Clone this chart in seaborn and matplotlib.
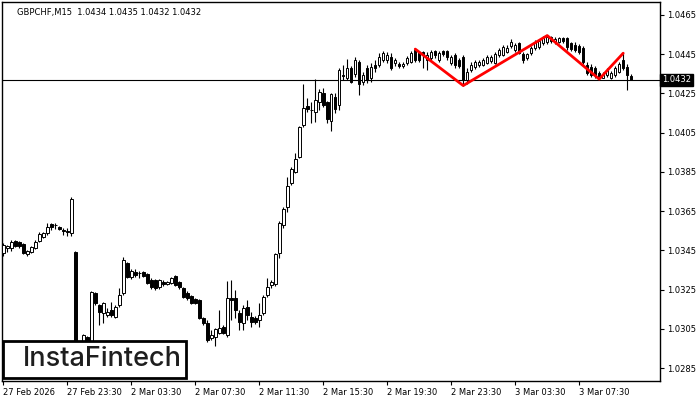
import numpy as np
import matplotlib
matplotlib.use("Agg")
import matplotlib.pyplot as plt
from matplotlib.patches import Rectangle
import seaborn as sns

# GBPCHF M15 candles, 27 Feb 19:30 -> 3 Mar 10:45 (bar index = position)
opens = [1.03437, 1.03462, 1.03462, 1.03498, 1.03493, 1.03483, 1.03432, 1.03442, 1.03462, 1.03498,
         1.03519, 1.03539, 1.03585, 1.03580, 1.03570, 1.03554, 1.03549, 1.03539, 1.03442, 1.02975,
         1.02975, 1.03008, 1.02985, 1.03233, 1.03172, 1.03131, 1.03120, 1.03146, 1.03110, 1.03172,
         1.03233, 1.03386, 1.03314, 1.03340, 1.03335, 1.03340, 1.03330, 1.03299, 1.03299, 1.03263,
         1.03289, 1.03279, 1.03284, 1.03319, 1.03289, 1.03258, 1.03233, 1.03217, 1.03202, 1.03197,
         1.03105, 1.03080, 1.03003, 1.03008, 1.03029, 1.03059, 1.03018, 1.03207, 1.03207, 1.03131,
         1.03080, 1.03161, 1.03110, 1.03105, 1.03095, 1.03131, 1.03222, 1.03273, 1.03279, 1.03437,
         1.03580, 1.03671, 1.03794, 1.03850, 1.03926, 1.04089, 1.04186, 1.04166, 1.04156, 1.04207,
         1.04253, 1.04207, 1.04110, 1.04232, 1.04192, 1.04344, 1.04329, 1.04380, 1.04350, 1.04411,
         1.04309, 1.04380, 1.04329, 1.04395, 1.04395, 1.04421, 1.04421, 1.04436, 1.04406, 1.04401,
         1.04390, 1.04406, 1.04411, 1.04470, 1.04457, 1.04462, 1.04421, 1.04431, 1.04467, 1.04421,
         1.04467, 1.04467, 1.04406, 1.04446, 1.04421, 1.04436, 1.04319, 1.04370, 1.04385, 1.04395,
         1.04395, 1.04406, 1.04416, 1.04406, 1.04446, 1.04446, 1.04462, 1.04492, 1.04472, 1.04508,
         1.04452, 1.04431, 1.04457, 1.04482, 1.04487, 1.04508, 1.04513, 1.04538, 1.04513, 1.04513,
         1.04533, 1.04533, 1.04508, 1.04497, 1.04492, 1.04482, 1.04395, 1.04385, 1.04380, 1.04355,
         1.04329, 1.04344, 1.04329, 1.04344, 1.04360, 1.04421, 1.04385, 1.04340]
highs = [1.03488, 1.03478, 1.03503, 1.03503, 1.03498, 1.03488, 1.03452, 1.03472, 1.03503, 1.03544,
         1.03544, 1.03590, 1.03590, 1.03590, 1.03574, 1.03564, 1.03564, 1.03722, 1.03447, 1.02985,
         1.03023, 1.03013, 1.03243, 1.03238, 1.03177, 1.03187, 1.03156, 1.03187, 1.03172, 1.03258,
         1.03416, 1.03391, 1.03355, 1.03355, 1.03345, 1.03345, 1.03335, 1.03309, 1.03304, 1.03304,
         1.03299, 1.03294, 1.03314, 1.03324, 1.03294, 1.03263, 1.03243, 1.03222, 1.03207, 1.03202,
         1.03110, 1.03095, 1.03044, 1.03054, 1.03146, 1.03070, 1.03294, 1.03299, 1.03248, 1.03146,
         1.03172, 1.03197, 1.03136, 1.03115, 1.03182, 1.03222, 1.03309, 1.03299, 1.03437, 1.03600,
         1.03671, 1.03824, 1.03875, 1.03947, 1.04084, 1.04299, 1.04227, 1.04207, 1.04324, 1.04273,
         1.04278, 1.04212, 1.04253, 1.04253, 1.04380, 1.04395, 1.04426, 1.04390, 1.04436, 1.04421,
         1.04360, 1.04395, 1.04406, 1.04421, 1.04457, 1.04467, 1.04462, 1.04457, 1.04431, 1.04411,
         1.04411, 1.04441, 1.04467, 1.04476, 1.04467, 1.04467, 1.04462, 1.04470, 1.04470, 1.04467,
         1.04470, 1.04470, 1.04446, 1.04457, 1.04431, 1.04446, 1.04380, 1.04411, 1.04421, 1.04421,
         1.04431, 1.04446, 1.04446, 1.04462, 1.04482, 1.04497, 1.04497, 1.04528, 1.04508, 1.04513,
         1.04462, 1.04457, 1.04492, 1.04523, 1.04528, 1.04543, 1.04545, 1.04543, 1.04538, 1.04538,
         1.04538, 1.04538, 1.04513, 1.04513, 1.04503, 1.04492, 1.04411, 1.04401, 1.04390, 1.04365,
         1.04360, 1.04380, 1.04365, 1.04390, 1.04411, 1.04455, 1.04401, 1.04350]
lows = [1.03421, 1.03442, 1.03447, 1.03467, 1.03462, 1.03432, 1.03421, 1.03437, 1.03457, 1.03493,
        1.03514, 1.03529, 1.03554, 1.03559, 1.03554, 1.03529, 1.03524, 1.03524, 1.02960, 1.02920,
        1.02950, 1.02970, 1.02965, 1.03172, 1.03070, 1.03080, 1.03110, 1.03110, 1.03105, 1.03161,
        1.03222, 1.03309, 1.03304, 1.03314, 1.03309, 1.03314, 1.03279, 1.03253, 1.03248, 1.03253,
        1.03268, 1.03273, 1.03279, 1.03268, 1.03253, 1.03207, 1.03197, 1.03177, 1.03177, 1.03100,
        1.03070, 1.02983, 1.02993, 1.02962, 1.03024, 1.03024, 1.03008, 1.03095, 1.03105, 1.03044,
        1.03044, 1.03095, 1.03060, 1.03075, 1.03060, 1.03120, 1.03212, 1.03258, 1.03268, 1.03411,
        1.03564, 1.03646, 1.03784, 1.03845, 1.03921, 1.04079, 1.04156, 1.04100, 1.04105, 1.04166,
        1.04181, 1.04100, 1.04059, 1.04151, 1.04166, 1.04319, 1.04319, 1.04304, 1.04334, 1.04242,
        1.04293, 1.04304, 1.04309, 1.04360, 1.04385, 1.04411, 1.04406, 1.04370, 1.04390, 1.04380,
        1.04380, 1.04395, 1.04406, 1.04411, 1.04411, 1.04380, 1.04370, 1.04421, 1.04431, 1.04411,
        1.04441, 1.04421, 1.04395, 1.04380, 1.04380, 1.04290, 1.04299, 1.04360, 1.04375, 1.04385,
        1.04390, 1.04401, 1.04406, 1.04401, 1.04436, 1.04441, 1.04457, 1.04482, 1.04462, 1.04452,
        1.04406, 1.04421, 1.04446, 1.04472, 1.04477, 1.04497, 1.04503, 1.04508, 1.04503, 1.04508,
        1.04508, 1.04472, 1.04467, 1.04462, 1.04452, 1.04401, 1.04344, 1.04334, 1.04329, 1.04323,
        1.04327, 1.04334, 1.04324, 1.04334, 1.04355, 1.04370, 1.04268, 1.04320]
closes = [1.03478, 1.03472, 1.03493, 1.03472, 1.03472, 1.03437, 1.03447, 1.03467, 1.03493, 1.03534,
          1.03539, 1.03570, 1.03570, 1.03577, 1.03559, 1.03551, 1.03544, 1.03712, 1.02975, 1.02950,
          1.03018, 1.02990, 1.03238, 1.03182, 1.03136, 1.03182, 1.03136, 1.03120, 1.03161, 1.03222,
          1.03401, 1.03314, 1.03345, 1.03324, 1.03332, 1.03319, 1.03284, 1.03263, 1.03258, 1.03299,
          1.03279, 1.03289, 1.03309, 1.03273, 1.03263, 1.03212, 1.03207, 1.03182, 1.03182, 1.03105,
          1.03080, 1.02993, 1.03018, 1.03049, 1.03054, 1.03029, 1.03207, 1.03197, 1.03146, 1.03085,
          1.03156, 1.03120, 1.03085, 1.03085, 1.03120, 1.03212, 1.03263, 1.03289, 1.03432, 1.03590,
          1.03661, 1.03778, 1.03865, 1.03916, 1.04079, 1.04176, 1.04171, 1.04163, 1.04217, 1.04258,
          1.04192, 1.04120, 1.04248, 1.04171, 1.04370, 1.04339, 1.04380, 1.04309, 1.04421, 1.04299,
          1.04344, 1.04319, 1.04385, 1.04380, 1.04436, 1.04457, 1.04446, 1.04380, 1.04421, 1.04390,
          1.04401, 1.04431, 1.04457, 1.04421, 1.04421, 1.04446, 1.04446, 1.04462, 1.04446, 1.04457,
          1.04452, 1.04436, 1.04436, 1.04395, 1.04390, 1.04319, 1.04360, 1.04395, 1.04411, 1.04411,
          1.04421, 1.04436, 1.04436, 1.04452, 1.04472, 1.04487, 1.04482, 1.04513, 1.04497, 1.04457,
          1.04421, 1.04452, 1.04482, 1.04513, 1.04518, 1.04538, 1.04538, 1.04518, 1.04528, 1.04533,
          1.04518, 1.04487, 1.04477, 1.04472, 1.04462, 1.04411, 1.04355, 1.04344, 1.04344, 1.04329,
          1.04344, 1.04370, 1.04355, 1.04380, 1.04401, 1.04380, 1.04344, 1.04320]

# head & shoulders pattern line (bar index, price)
pattern_bars = [103, 115, 136, 149, 155]
pattern_prices = [1.04476, 1.04290, 1.04545, 1.04323, 1.04455]

last_price = 1.0432
title = "GBPCHF,M15  1.0434 1.0435 1.0432 1.0432"

tick_bars = [0, 16, 32, 48, 64, 80, 96, 112, 128, 144]
tick_labels = ["27 Feb 2026", "27 Feb 23:30", "2 Mar 03:30", "2 Mar 07:30", "2 Mar 11:30",
               "2 Mar 15:30", "2 Mar 19:30", "2 Mar 23:30", "3 Mar 03:30", "3 Mar 07:30"]
price_ticks = [1.0285, 1.0305, 1.0325, 1.0345, 1.0365, 1.0385, 1.0405, 1.0425, 1.0445, 1.0465]

sns.set_style("white")
plt.rcParams['font.family'] = ['DejaVu Sans']

fig = plt.figure(figsize=(7, 4), dpi=100)
ax = fig.add_axes([2 / 700, 19 / 400, 658 / 700, 379 / 400])

o = np.array(opens)
h = np.array(highs)
l = np.array(lows)
c = np.array(closes)
idx = np.arange(len(o))
up = c >= o

# wicks then bodies
ax.vlines(idx, l, h, color="black", linewidth=0.8, zorder=2)
ax.bar(idx[up], (c - o)[up], bottom=o[up], width=0.62, facecolor="white",
       edgecolor="black", linewidth=0.7, zorder=3)
ax.bar(idx[~up], (o - c)[~up], bottom=c[~up], width=0.62, facecolor="black",
       edgecolor="black", linewidth=0.7, zorder=3)

ax.axhline(last_price, color="black", linewidth=0.8, zorder=1)

sns.lineplot(x=pattern_bars, y=pattern_prices, color="red", linewidth=2.0, ax=ax, zorder=4)

ax.set_xlim(-0.33, 164.2)
ax.set_ylim(1.02784, 1.04716)

ax.yaxis.tick_right()
ax.set_yticks(price_ticks)
ax.set_yticklabels([f"{p:.4f}" for p in price_ticks])
ax.set_xticks(tick_bars)
ax.set_xticklabels(tick_labels, ha="left")
ax.tick_params(axis="both", direction="out", length=3, width=0.8, color="black",
               labelsize=6, labelcolor="black", pad=2)
ax.tick_params(axis="y", right=True, left=False)
ax.tick_params(axis="x", bottom=True)
ax.set_xlabel("")
ax.set_ylabel("")
for s in ax.spines.values():
    s.set_color("black")
    s.set_linewidth(1.0)
    s.set_visible(True)
ax.grid(False)

ax.text(15 / 658, 1 - 11 / 379, title, transform=ax.transAxes, fontsize=6,
        color="black", va="center", ha="left")

ax.text(1.003, last_price, "1.0432", transform=ax.get_yaxis_transform(), fontsize=6,
        color="white", va="center", ha="left",
        bbox=dict(facecolor="black", edgecolor="black", pad=1.2), zorder=6)

# logo
fig.add_artist(Rectangle((3 / 700, 22 / 400), 183 / 700, 37 / 400, transform=fig.transFigure,
                         facecolor="white", edgecolor="black", linewidth=2.0, zorder=10))
fig.text(102 / 700, 40.5 / 400, "InstaFintech", fontsize=19.5, color="#1e1e1e",
         family=["Inter", "DejaVu Sans"], weight="medium", ha="center", va="center", zorder=11)

fig.savefig("out.png", dpi=100)
